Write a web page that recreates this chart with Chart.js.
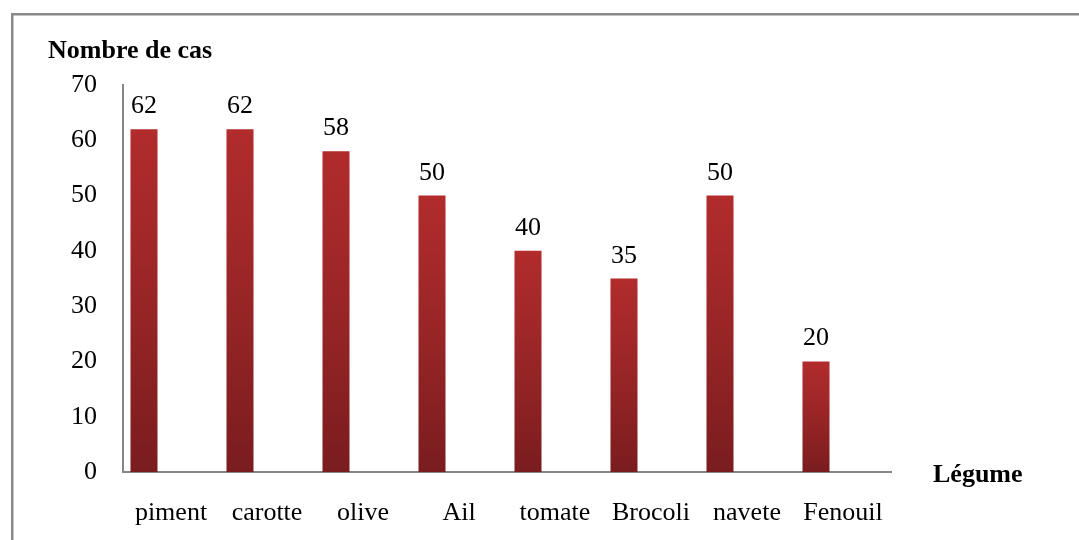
<!DOCTYPE html>
<html lang="fr">
<head>
<meta charset="utf-8">
<title>Nombre de cas par légume</title>
<script src="https://cdn.jsdelivr.net/npm/chart.js@4/dist/chart.umd.min.js"></script>
<style>
  html, body { margin: 0; padding: 0; background: #ffffff; }
  #wrap { position: relative; width: 1079px; height: 540px; }
  canvas { display: block; }
</style>
</head>
<body>
<div id="wrap"><canvas id="chart" width="1079" height="540"></canvas></div>
<script>
// Légumes et nombre de cas
const categories = ['piment', 'carotte', 'olive', 'Ail', 'tomate', 'Brocoli', 'navete', 'Fenouil'];
const cases = [62, 62, 58, 50, 40, 35, 50, 20];
const yTicks = [0, 10, 20, 30, 40, 50, 60, 70];

const yTitle = 'Nombre de cas';
const xTitle = 'Légume';

const SERIF = "'Liberation Serif', 'Times New Roman', serif";
const AXIS_GREY = '#868686';

// Per-bar vertical gradient: brighter red on top, deep red at the base
function barFill(ctx) {
  const chart = ctx.chart;
  const area = chart.chartArea;
  if (!area || ctx.raw == null) return '#9a2424';
  const y = chart.scales.y;
  const top = y.getPixelForValue(ctx.raw);
  const base = y.getPixelForValue(0);
  const g = chart.ctx.createLinearGradient(0, top, 0, base);
  g.addColorStop(0, '#b12c2b');
  g.addColorStop(0.5, '#982526');
  g.addColorStop(1, '#7a1c1f');
  return g;
}

// Frame around the chart and the two axis captions
const framePlugin = {
  id: 'frame',
  beforeDraw(chart) {
    const c = chart.ctx;
    c.save();
    c.strokeStyle = '#8a8a8a';
    c.lineWidth = 2.5;
    c.beginPath();
    c.moveTo(12.25, 540);
    c.lineTo(12.25, 14.25);
    c.lineTo(1079, 14.25);
    c.stroke();
    c.restore();
  },
  afterDraw(chart) {
    const c = chart.ctx;
    const area = chart.chartArea;
    c.save();
    c.fillStyle = '#000';
    c.font = 'bold 26px ' + SERIF;
    c.textBaseline = 'alphabetic';
    c.textAlign = 'left';
    c.fillText(yTitle, 48, area.top - 27);
    c.fillText(xTitle, area.right + 42, area.bottom + 10);
    c.restore();
  }
};

// Value written above each bar
const valueLabels = {
  id: 'valueLabels',
  afterDatasetsDraw(chart) {
    const c = chart.ctx;
    const meta = chart.getDatasetMeta(0);
    c.save();
    c.fillStyle = '#000';
    c.font = '26px ' + SERIF;
    c.textAlign = 'center';
    c.textBaseline = 'alphabetic';
    meta.data.forEach((bar, i) => {
      const v = chart.data.datasets[0].data[i];
      if (v == null) return;
      c.fillText(String(v), bar.x, bar.y - 16);
    });
    c.restore();
  }
};

new Chart(document.getElementById('chart'), {
  type: 'bar',
  data: {
    labels: categories,
    datasets: [
      { label: yTitle, data: cases, backgroundColor: barFill, borderWidth: 0 },
      { label: 'série 2', data: [], backgroundColor: 'transparent' },
      { label: 'série 3', data: [], backgroundColor: 'transparent' }
    ]
  },
  options: {
    responsive: false,
    animation: false,
    devicePixelRatio: 1,
    layout: { padding: { top: 85, right: 188, left: 0, bottom: 0 } },
    datasets: { bar: { categoryPercentage: 0.84375, barPercentage: 1 } },
    plugins: {
      legend: { display: false },
      tooltip: { enabled: false },
      title: { display: false }
    },
    scales: {
      x: {
        grid: { display: false, drawTicks: false },
        border: { display: true, color: AXIS_GREY, width: 2 },
        ticks: { color: '#000', font: { family: SERIF, size: 26 }, padding: 26, maxRotation: 0, autoSkip: false },
        afterFit(scale) { scale.height = 68; }
      },
      y: {
        min: 0,
        max: 70,
        grid: { display: false, drawTicks: false },
        border: { display: true, color: AXIS_GREY, width: 2 },
        afterBuildTicks(scale) { scale.ticks = yTicks.map(v => ({ value: v })); },
        ticks: { color: '#000', font: { family: SERIF, size: 26 }, padding: 26 },
        afterFit(scale) { scale.width = 123; }
      }
    }
  },
  plugins: [framePlugin, valueLabels]
});
</script>
</body>
</html>
